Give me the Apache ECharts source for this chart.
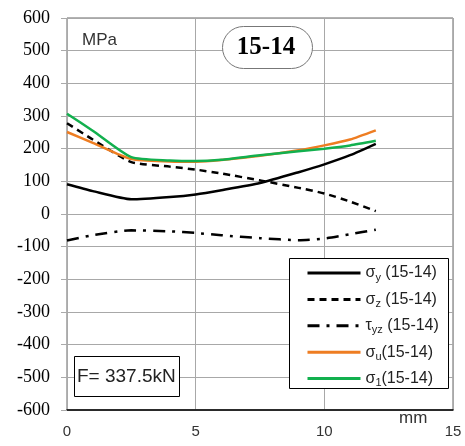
<!DOCTYPE html>
<html>
<head>
<meta charset="utf-8">
<script src="https://cdn.jsdelivr.net/npm/echarts@6/dist/echarts.min.js"></script>
<style>
html, body { margin: 0; padding: 0; background: #fff; }
#chart { width: 465px; height: 446px; }
</style>
</head>
<body>
<div id="chart"></div>
<script>
// distance along the section, mm
const xs = [0, 1, 2.5, 4, 5, 6, 7.5, 9, 10, 11, 12];

const sigmaY  = [91, 70, 45, 52, 60, 73, 95, 128, 152, 180, 215];
const sigmaZ  = [278, 228, 159, 145, 136, 124, 103, 80, 63, 38, 9];
const tauYZ   = [-81, -65, -50, -53, -58, -65, -74, -80, -75, -62, -48];
const sigmaU  = [251, 218, 168, 161, 160, 165, 178, 195, 210, 228, 256];
const sigma1  = [307, 255, 174, 164, 162, 166, 180, 192, 200, 210, 224];

const symbols = ['σ', 'σ', 'τ', 'σ', 'σ'];
const subs = ['y', 'z', 'yz', 'u', '1'];
const suffixes = [' (15-14)', ' (15-14)', ' (15-14)', '(15-14)', '(15-14)'];
const names = symbols.map((s, i) => s + subs[i] + suffixes[i]);

const xTicks = [0, 5, 10, 15];
const yRange = [-600, 600];

const serif = 'Liberation Serif';
const sans = 'Liberation Sans';

function pairs(ys) {
    return xs.map((x, i) => [x, ys[i]]);
}

function mkSeries(i, ys, color, type) {
    return {
        name: names[i],
        type: 'line',
        data: pairs(ys),
        smooth: 0.2,
        symbol: 'circle',
        showSymbol: false,
        lineStyle: { color: color, width: 2.5, type: type },
        itemStyle: { color: color },
        z: 2
    };
}

var chart = echarts.init(document.getElementById('chart'));

chart.setOption({
    animation: false,
    backgroundColor: '#fff',
    textStyle: { fontFamily: serif },
    grid: {
        left: 67, right: 12, top: 18, bottom: 36,
        show: true,
        borderColor: '#666',
        borderWidth: 1
    },
    xAxis: {
        type: 'value',
        min: xTicks[0],
        max: xTicks[xTicks.length - 1],
        interval: 5,
        axisLine: { onZero: false, lineStyle: { color: '#000', width: 1.5 } },
        axisTick: { show: false },
        axisLabel: {
            fontSize: 15, color: '#333', margin: 14,
            formatter: v => '{t|' + v + '}',
            rich: { t: { fontFamily: sans, fontSize: 15, color: '#333' } }
        },
        splitLine: { lineStyle: { color: '#a8a8a8', width: 1 } }
    },
    yAxis: {
        type: 'value',
        min: yRange[0],
        max: yRange[1],
        interval: 100,
        axisLine: { show: true, onZero: false, lineStyle: { color: '#aaa' } },
        axisTick: { show: true, length: 6, lineStyle: { color: '#aaa' } },
        axisLabel: {
            fontFamily: serif, fontSize: 18, color: '#000', margin: 17,
            textStyle: { fontFamily: serif }
        },
        splitLine: { lineStyle: { color: '#a8a8a8', width: 1 } }
    },
    legend: {
        orient: 'vertical',
        left: 306,
        top: 265,
        padding: 0,
        itemWidth: 53,
        itemHeight: 14,
        itemGap: 8.4,
        z: 6,
        data: names,
        itemStyle: { opacity: 0 },
        lineStyle: { width: 3 },
        formatter: function (name) {
            const i = names.indexOf(name);
            return '{a|' + symbols[i] + '}{s|' + subs[i] + '}{a|' + suffixes[i] + '}';
        },
        textStyle: {
            fontFamily: sans,
            fontSize: 16,
            color: '#222',
            rich: {
                a: { fontFamily: sans, fontSize: 16, color: '#222' },
                s: { fontFamily: sans, fontSize: 11, color: '#222', padding: [9, 0, 0, 0] }
            }
        }
    },
    graphic: [
        {
            type: 'rect', z: 5,
            shape: { x: 289.5, y: 258.5, width: 159, height: 130 },
            style: { fill: '#fff', stroke: '#000', lineWidth: 1 }
        },
        {
            type: 'rect', z: 5,
            shape: { x: 74.5, y: 356.5, width: 105, height: 40 },
            style: { fill: '#fff', stroke: '#000', lineWidth: 1 }
        },
        {
            type: 'text', z: 6, x: 77, y: 377,
            style: { text: 'F= 337.5kN', fontFamily: sans, fontSize: 19, fill: '#222', textVerticalAlign: 'middle' }
        },
        {
            type: 'rect', z: 5,
            shape: { x: 222.5, y: 26.5, width: 90, height: 42, r: 21 },
            style: { fill: '#fff', stroke: '#777', lineWidth: 1 }
        },
        {
            type: 'text', z: 6, x: 266, y: 48,
            style: {
                text: '15-14', fontFamily: serif, fontWeight: 'bold', fontSize: 25, fill: '#000',
                textAlign: 'center', textVerticalAlign: 'middle'
            }
        },
        {
            type: 'text', z: 6, x: 82, y: 40,
            style: { text: 'MPa', fontFamily: sans, fontSize: 17, fill: '#333', textVerticalAlign: 'middle' }
        },
        {
            type: 'text', z: 6, x: 399, y: 418,
            style: { text: 'mm', fontFamily: sans, fontSize: 17, fill: '#333', textVerticalAlign: 'middle' }
        }
    ],
    series: [
        mkSeries(0, sigmaY, '#000', 'solid'),
        mkSeries(1, sigmaZ, '#000', [7, 5]),
        mkSeries(2, tauYZ, '#000', [12, 7, 3, 7]),
        mkSeries(3, sigmaU, '#ee7d22', 'solid'),
        mkSeries(4, sigma1, '#12b04e', 'solid')
    ]
});
</script>
</body>
</html>
